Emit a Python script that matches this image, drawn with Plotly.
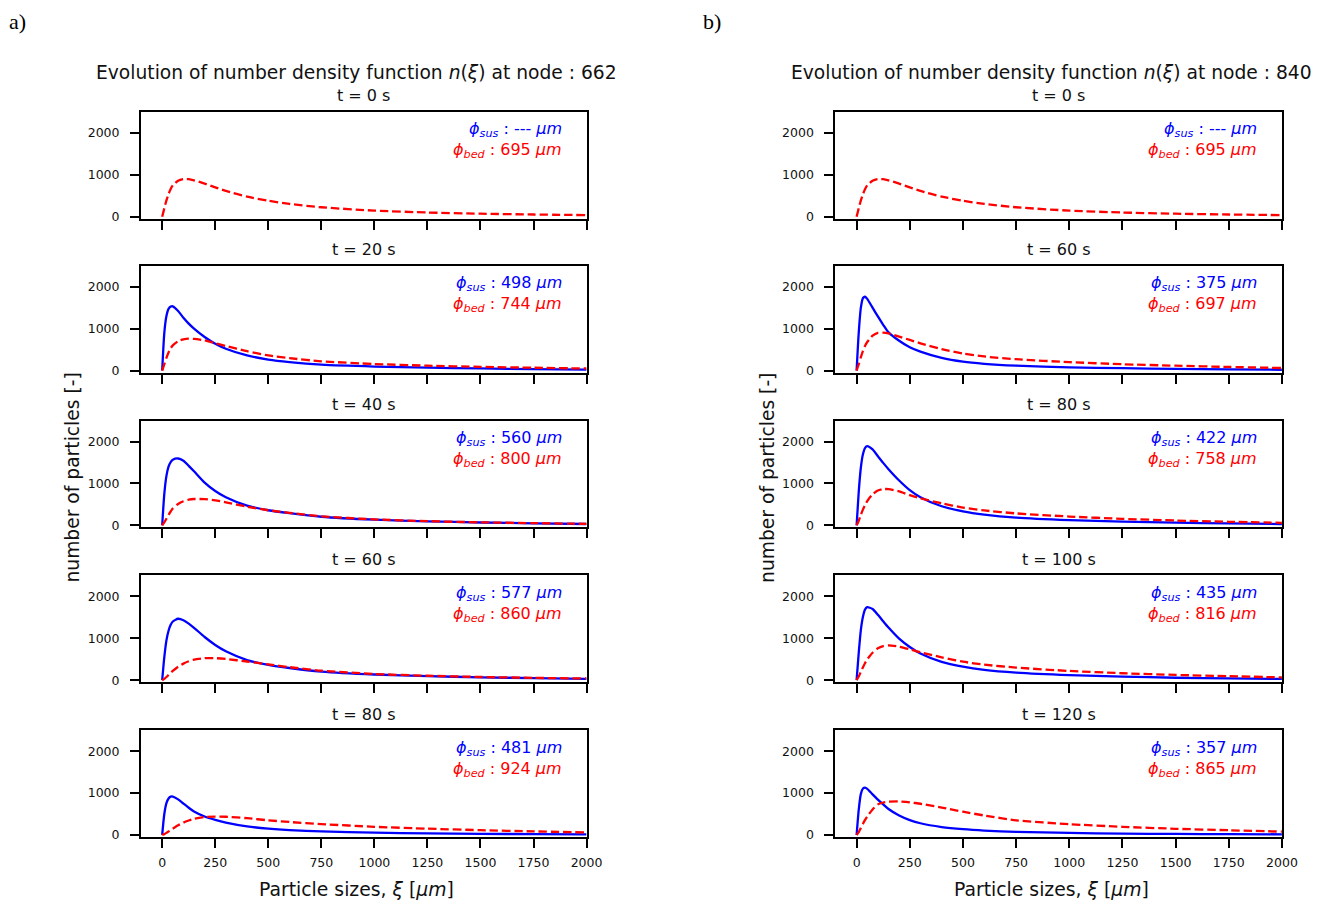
import plotly.graph_objects as go

# ---------------- data ----------------
XI = [0, 10, 20, 30, 40, 50, 75, 100, 125, 150, 200, 250, 300, 400, 500, 600, 750, 1000, 1250, 1500, 1750, 2000]

# panel a) node 662
a_times = ["t = 0 s", "t = 20 s", "t = 40 s", "t = 60 s", "t = 80 s"]
a_sus_lbl = ["---", "498", "560", "577", "481"]
a_bed_lbl = ["695", "744", "800", "860", "924"]
a_sus = [
    None,
    [0, 900, 1300, 1470, 1525, 1530, 1420, 1260, 1120, 1000, 800, 640, 520, 360, 260, 200, 140, 95, 68, 50, 33, 22],
    [0, 750, 1180, 1400, 1510, 1565, 1595, 1540, 1420, 1290, 1020, 820, 670, 470, 360, 290, 205, 135, 95, 68, 47, 32],
    [0, 550, 950, 1180, 1320, 1400, 1465, 1430, 1350, 1250, 1030, 840, 690, 480, 365, 290, 205, 135, 95, 68, 48, 32],
    [0, 500, 760, 870, 915, 918, 850, 750, 650, 560, 440, 360, 295, 205, 150, 115, 85, 55, 38, 28, 20, 15],
]
a_bed = [
    [0, 200, 390, 540, 660, 750, 860, 898, 895, 868, 790, 700, 615, 480, 380, 305, 225, 145, 100, 72, 52, 38],
    [0, 150, 300, 430, 530, 600, 700, 745, 760, 755, 720, 650, 585, 460, 360, 295, 220, 155, 115, 88, 66, 48],
    [0, 70, 160, 250, 330, 400, 510, 575, 612, 628, 625, 595, 550, 445, 360, 298, 215, 142, 100, 72, 52, 36],
    [0, 30, 75, 125, 175, 220, 320, 395, 450, 490, 525, 525, 505, 445, 375, 310, 225, 148, 105, 76, 55, 40],
    [0, 20, 50, 85, 120, 150, 230, 295, 345, 385, 430, 440, 435, 400, 350, 310, 260, 195, 150, 115, 85, 60],
]

# panel b) node 840
b_times = ["t = 0 s", "t = 60 s", "t = 80 s", "t = 100 s", "t = 120 s"]
b_sus_lbl = ["---", "375", "422", "435", "357"]
b_bed_lbl = ["695", "697", "758", "816", "865"]
b_sus = [
    None,
    [0, 900, 1500, 1730, 1760, 1710, 1500, 1290, 1090, 910, 710, 555, 450, 300, 210, 160, 115, 75, 55, 40, 27, 18],
    [0, 800, 1380, 1700, 1850, 1890, 1810, 1650, 1490, 1340, 1070, 840, 670, 455, 335, 258, 185, 125, 90, 65, 45, 30],
    [0, 650, 1200, 1520, 1690, 1740, 1700, 1560, 1405, 1255, 990, 790, 635, 435, 322, 246, 180, 120, 85, 58, 42, 30],
    [0, 600, 980, 1110, 1130, 1100, 970, 845, 730, 620, 465, 355, 280, 190, 138, 105, 75, 48, 33, 25, 20, 16],
]
b_bed = [
    [0, 200, 390, 540, 660, 750, 860, 898, 895, 868, 790, 700, 615, 480, 380, 305, 225, 145, 100, 72, 52, 38],
    [0, 150, 320, 470, 590, 680, 830, 900, 905, 885, 810, 730, 650, 510, 405, 335, 270, 200, 150, 115, 85, 60],
    [0, 110, 250, 380, 490, 580, 740, 830, 865, 865, 810, 720, 645, 525, 425, 355, 285, 210, 155, 115, 85, 60],
    [0, 85, 200, 310, 410, 495, 655, 760, 812, 828, 800, 735, 665, 545, 440, 370, 300, 220, 165, 125, 95, 65],
    [0, 70, 170, 270, 360, 440, 610, 730, 775, 795, 800, 780, 745, 655, 555, 465, 350, 258, 195, 148, 113, 80],
]

X_TICKS = [0, 250, 500, 750, 1000, 1250, 1500, 1750, 2000]
Y_TICKS = [0, 1000, 2000]

# ---------------- layout helpers ----------------
# Map target picture pixels to figure pixels (page margin + capture scaling).
OFF = 8
SX, SY = 1334 / 1319, 906 / 902
W, H = 1318, 898
FONT = "DejaVu Sans"
BLUE = "#0000ff"
RED = "#ff0000"
TXT = "#111111"


def px(x):
    return (x * SX - OFF) / W


def py(y):
    return 1 - (y * SY - OFF) / H


cols = [
    dict(x0=141, x1=587, title="Evolution of number density function <i>n</i>(<i>ξ</i>) at node : 662", tcx=357,
         label="a)", lx=8, times=a_times, sus=a_sus, bed=a_bed, sl=a_sus_lbl, bl=a_bed_lbl, ylx=72),
    dict(x0=836, x1=1283, title="Evolution of number density function <i>n</i>(<i>ξ</i>) at node : 840", tcx=1052,
         label="b)", lx=703, times=b_times, sus=b_sus, bed=b_bed, sl=b_sus_lbl, bl=b_bed_lbl, ylx=768),
]
row_tops = [112, 266, 421, 576, 731]
PH = 107

fig = go.Figure()
annotations = []
k = 0
for c in cols:
    for r in range(5):
        k += 1
        xa = "x" if k == 1 else f"x{k}"
        ya = "y" if k == 1 else f"y{k}"
        xl = "xaxis" if k == 1 else f"xaxis{k}"
        yl = "yaxis" if k == 1 else f"yaxis{k}"
        top = row_tops[r]
        bot = top + PH
        fig.update_layout({
            xl: dict(domain=[px(c["x0"]), px(c["x1"])], anchor=ya, range=[-100, 2000],
                     tickvals=X_TICKS, showticklabels=(r == 4),
                     ticks="outside", ticklen=9, tickwidth=1.5, tickcolor="black",
                     ticklabelstandoff=4,
                     showline=True, mirror=True, linecolor="black", linewidth=1.9,
                     showgrid=False, zeroline=False,
                     tickfont=dict(family=FONT, size=12.5, color=TXT)),
            yl: dict(domain=[py(bot), py(top)], anchor=xa, range=[-50, 2500],
                     tickvals=Y_TICKS, ticks="outside", ticklen=9, tickwidth=1.5, tickcolor="black",
                     ticklabelstandoff=8,
                     showline=True, mirror=True, linecolor="black", linewidth=1.9,
                     showgrid=False, zeroline=False,
                     tickfont=dict(family=FONT, size=12.5, color=TXT)),
        })
        if c["sus"][r] is not None:
            fig.add_trace(go.Scatter(x=XI, y=c["sus"][r], xaxis=xa, yaxis=ya, mode="lines",
                                     line=dict(color=BLUE, width=2.3, shape="spline", smoothing=0.6),
                                     showlegend=False, hoverinfo="skip"))
        fig.add_trace(go.Scatter(x=XI, y=c["bed"][r], xaxis=xa, yaxis=ya, mode="lines",
                                 line=dict(color=RED, width=2.3, dash="8.5px,3.8px", shape="spline", smoothing=0.6),
                                 showlegend=False, hoverinfo="skip"))
        cx = (c["x0"] + c["x1"]) / 2
        annotations.append(dict(x=px(cx), y=py(top - 16), xref="paper", yref="paper",
                                text=c["times"][r], showarrow=False, xanchor="center", yanchor="middle",
                                font=dict(family=FONT, size=16, color=TXT)))
        rx = c["x1"] - 23
        annotations.append(dict(x=px(rx), y=py(top + 18), xref="paper", yref="paper",
                                text=f"<i>ϕ</i><sub><i>sus</i></sub> : {c['sl'][r]} <i>μm</i>",
                                showarrow=False, xanchor="right", yanchor="middle",
                                font=dict(family=FONT, size=16, color=BLUE)))
        annotations.append(dict(x=px(rx), y=py(top + 39), xref="paper", yref="paper",
                                text=f"<i>ϕ</i><sub><i>bed</i></sub> : {c['bl'][r]} <i>μm</i>",
                                showarrow=False, xanchor="right", yanchor="middle",
                                font=dict(family=FONT, size=16, color=RED)))
    annotations.append(dict(x=px(c["tcx"]), y=py(73), xref="paper", yref="paper", text=c["title"],
                            showarrow=False, xanchor="center", yanchor="middle",
                            font=dict(family=FONT, size=18.7, color=TXT)))
    annotations.append(dict(x=px(c["tcx"]), y=py(890), xref="paper", yref="paper",
                            text="Particle sizes, <i>ξ</i> [<i>μm</i>]",
                            showarrow=False, xanchor="center", yanchor="middle",
                            font=dict(family=FONT, size=18.8, color=TXT)))
    annotations.append(dict(x=px(c["ylx"]), y=py(478), xref="paper", yref="paper",
                            text="number of particles [-]", textangle=-90,
                            showarrow=False, xanchor="center", yanchor="middle",
                            font=dict(family=FONT, size=18.7, color=TXT)))
    annotations.append(dict(x=px(c["lx"]), y=1.0, xref="paper", yref="paper", text=c["label"],
                            showarrow=False, xanchor="left", yanchor="top", borderpad=0,
                            font=dict(family="Liberation Serif", size=22, color="black")))

fig.update_layout(width=W, height=H, margin=dict(l=0, r=0, t=0, b=0),
                  paper_bgcolor="white", plot_bgcolor="white", annotations=annotations)
fig.write_html("out.html")
